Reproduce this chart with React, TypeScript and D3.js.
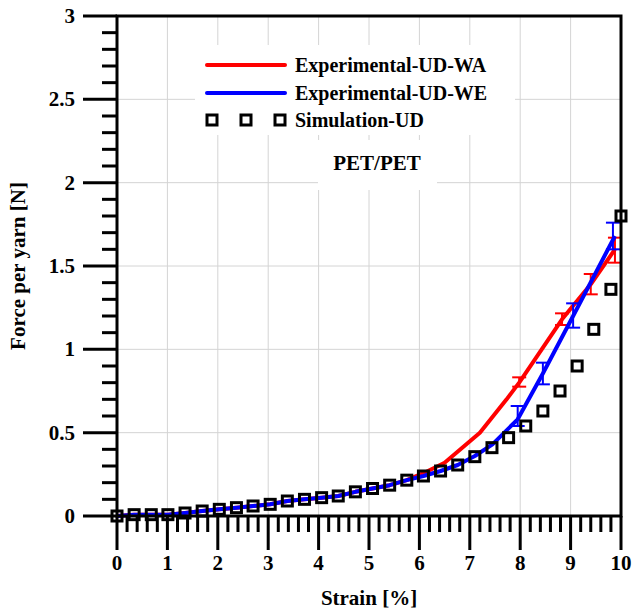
import React from "react";
import * as d3 from "d3";

const simStrain = [0, 0.34, 0.68, 1.01, 1.35, 1.69, 2.03, 2.37, 2.7, 3.04, 3.38, 3.72, 4.06, 4.39, 4.73, 5.07, 5.41, 5.75, 6.08, 6.42, 6.76, 7.1, 7.44, 7.77, 8.11, 8.45, 8.79, 9.13, 9.46, 9.8, 10];
const simForce = [0, 0.008, 0.008, 0.008, 0.018, 0.03, 0.04, 0.05, 0.06, 0.07, 0.09, 0.1, 0.11, 0.12, 0.145, 0.165, 0.185, 0.215, 0.24, 0.27, 0.306, 0.356, 0.41, 0.47, 0.54, 0.63, 0.75, 0.9, 1.12, 1.36, 1.8];

const waStrain = [0, 0.34, 0.68, 1.01, 1.35, 1.69, 2.03, 2.37, 2.7, 3.04, 3.38, 3.72, 4.06, 4.39, 4.73, 5.07, 5.41, 5.75, 6.1, 6.5, 7.2, 7.73, 7.98, 8.83, 9.4, 9.88];
const waForce = [0, 0.008, 0.008, 0.008, 0.018, 0.03, 0.04, 0.05, 0.06, 0.07, 0.09, 0.1, 0.11, 0.12, 0.145, 0.165, 0.185, 0.215, 0.26, 0.32, 0.5, 0.7, 0.8, 1.18, 1.39, 1.6];
const waErrX = [7.98, 8.83, 9.4, 9.88];
const waErrLow = [0.776, 1.146, 1.33, 1.52];
const waErrHigh = [0.832, 1.216, 1.452, 1.67];

const weStrain = [0, 0.34, 0.68, 1.01, 1.35, 1.69, 2.03, 2.37, 2.7, 3.04, 3.38, 3.72, 4.06, 4.39, 4.73, 5.07, 5.41, 5.75, 6.08, 6.42, 6.76, 7.1, 7.45, 7.95, 8.45, 9.05, 9.88];
const weForce = [0, 0.008, 0.008, 0.008, 0.018, 0.03, 0.04, 0.05, 0.06, 0.07, 0.09, 0.1, 0.11, 0.12, 0.145, 0.165, 0.185, 0.215, 0.24, 0.27, 0.306, 0.36, 0.43, 0.58, 0.855, 1.2, 1.68];
const weErrX = [7.95, 8.45, 9.05, 9.84];
const weErrLow = [0.54, 0.79, 1.13, 1.6];
const weErrHigh = [0.66, 0.92, 1.276, 1.76];

const xMajorTicks = [0, 1, 2, 3, 4, 5, 6, 7, 8, 9, 10];
const yMajorTicks = [0, 0.5, 1, 1.5, 2, 2.5, 3];
const yTickLabels = ["0", "0.5", "1", "1.5", "2", "2.5", "3"];

const legendLabels = ["Experimental-UD-WA", "Experimental-UD-WE", "Simulation-UD"];
const annotation = "PET/PET";

const FONT = "'Liberation Serif', 'Times New Roman', serif";

export default function App() {
  const W = 632, H = 615;
  const x = d3.scaleLinear().domain([0, 10]).range([117, 621]);
  const y = d3.scaleLinear().domain([0, 3]).range([516, 16]);
  const xMinor = d3.range(0, 10.001, 0.2).filter((v) => Math.abs(v - Math.round(v)) > 0.01);
  const yMinor = d3.range(0, 3.001, 0.1).filter((v) => Math.abs(v * 2 - Math.round(v * 2)) > 0.01);

  const line = d3.line<[number, number]>().x((d) => x(d[0])).y((d) => y(d[1]));
  const wa = line(waStrain.map((s, i) => [s, waForce[i]]));
  const we = line(weStrain.map((s, i) => [s, weForce[i]]));

  const cap = 7;
  const sq = 10;

  const errBars = (xs: number[], lo: number[], hi: number[], color: string) =>
    xs.map((s, i) => (
      <g key={color + i} stroke={color} strokeWidth={2}>
        <line x1={x(s)} x2={x(s)} y1={y(lo[i])} y2={y(hi[i])} />
        <line x1={x(s) - cap} x2={x(s) + cap} y1={y(lo[i])} y2={y(lo[i])} />
        <line x1={x(s) - cap} x2={x(s) + cap} y1={y(hi[i])} y2={y(hi[i])} />
      </g>
    ));

  return (
    <svg width={W} height={H} style={{ position: "absolute", left: 0, top: 0, background: "#fff" }} fontFamily={FONT}>
      {/* grid */}
      <g stroke="#d4d4d4" strokeWidth={1}>
        {xMajorTicks.slice(1, -1).map((t) => (
          <line key={"gx" + t} x1={x(t)} x2={x(t)} y1={y(0)} y2={y(3)} />
        ))}
        {yMajorTicks.slice(1, -1).map((t) => (
          <line key={"gy" + t} x1={x(0)} x2={x(10)} y1={y(t)} y2={y(t)} />
        ))}
      </g>
      {/* legend & annotation backgrounds */}
      <rect x={195} y={45} width={320} height={90} fill="#fff" />
      <rect x={318} y={140} width={119} height={50} fill="#fff" />

      {/* lines */}
      <path d={wa || ""} fill="none" stroke="#ff0000" strokeWidth={4} strokeLinejoin="round" />
      {errBars(waErrX, waErrLow, waErrHigh, "#ff0000")}
      <path d={we || ""} fill="none" stroke="#0000ff" strokeWidth={4} strokeLinejoin="round" />
      {errBars(weErrX, weErrLow, weErrHigh, "#0000ff")}

      {/* simulation squares */}
      {simStrain.map((s, i) => (
        <rect key={"s" + i} x={x(s) - sq / 2} y={y(simForce[i]) - sq / 2} width={sq} height={sq} fill="none" stroke="#000" strokeWidth={3} />
      ))}

      {/* frame */}
      <rect x={x(0)} y={y(3)} width={x(10) - x(0)} height={y(0) - y(3)} fill="none" stroke="#000" strokeWidth={3} />

      {/* x ticks */}
      <g stroke="#000" strokeWidth={3}>
        {xMajorTicks.map((t) => (
          <line key={"xt" + t} x1={x(t)} x2={x(t)} y1={y(0)} y2={y(0) + 34} />
        ))}
        {xMinor.map((t, i) => (
          <line key={"xm" + i} x1={x(t)} x2={x(t)} y1={y(0)} y2={y(0) + 16} />
        ))}
        {yMajorTicks.map((t) => (
          <line key={"yt" + t} x1={x(0) - 34} x2={x(0)} y1={y(t)} y2={y(t)} />
        ))}
        {yMinor.map((t, i) => (
          <line key={"ym" + i} x1={x(0) - 15} x2={x(0)} y1={y(t)} y2={y(t)} />
        ))}
      </g>
      <g fontSize={21} fontWeight="bold" fill="#000">
        {xMajorTicks.map((t) => (
          <text key={"xl" + t} x={x(t)} y={y(0) + 47} textAnchor="middle" dominantBaseline="central">{t}</text>
        ))}
        {yMajorTicks.map((t, i) => (
          <text key={"yl" + t} x={x(0) - 42} y={y(t)} textAnchor="end" dominantBaseline="central">{yTickLabels[i]}</text>
        ))}
        <text x={(x(0) + x(10)) / 2} y={598} textAnchor="middle" dominantBaseline="central">Strain [%]</text>
        <text transform={`translate(18,${(y(0) + y(3)) / 2}) rotate(-90)`} textAnchor="middle" dominantBaseline="central">Force per yarn [N]</text>
      </g>

      {/* legend */}
      <g fontSize={20} fontWeight="bold" fill="#000">
        <line x1={207} x2={285} y1={65} y2={65} stroke="#ff0000" strokeWidth={4} strokeLinecap="round" />
        <text x={295} y={65} dominantBaseline="central">{legendLabels[0]}</text>
        <line x1={207} x2={285} y1={93} y2={93} stroke="#0000ff" strokeWidth={4} strokeLinecap="round" />
        <text x={295} y={93} dominantBaseline="central">{legendLabels[1]}</text>
        {[212, 246, 280].map((cx, i) => (
          <rect key={"lg" + i} x={cx - sq / 2} y={120 - sq / 2} width={sq} height={sq} fill="none" stroke="#000" strokeWidth={3} />
        ))}
        <text x={295} y={120} dominantBaseline="central">{legendLabels[2]}</text>
        <text x={377} y={163} textAnchor="middle" dominantBaseline="central" fontSize={21}>{annotation}</text>
      </g>
    </svg>
  );
}
